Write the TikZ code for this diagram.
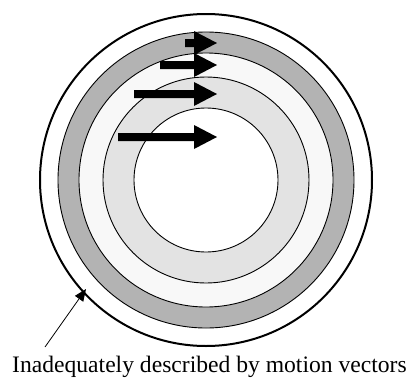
\documentclass[tikz,border=0pt]{standalone}
\usepackage{fontspec}
\setmainfont{Liberation Serif}
\usetikzlibrary{arrows.meta}
\definecolor{ringdark}{HTML}{B3B3B3}
\definecolor{ringpale}{HTML}{F8F8F8}
\definecolor{ringlight}{HTML}{E3E3E3}
\begin{document}
\begin{tikzpicture}[x=1bp,y=-1bp,
  ring/.style={draw=black,line width=0.9bp},
  bigarrow/.style={fill=black,draw=none}]
\useasboundingbox (0,0) rectangle (412,379);
\coordinate (c) at (206,180);
% rings
\draw[line width=2bp,fill=white] (c) circle[radius=166];
\draw[ring,fill=ringdark] (c) circle[radius=148];
\draw[ring,fill=ringpale] (c) circle[radius=127];
\draw[ring,fill=ringlight] (c) circle[radius=103];
\draw[ring,fill=white] (c) circle[radius=72];
% motion vectors
\foreach \ys/\xs in {43/185, 65/160, 94/134, 137/118}{
  \fill[bigarrow] (\xs,\ys-4) -- (194,\ys-4) -- (194,\ys-12) -- (217,\ys)
     -- (194,\ys+12) -- (194,\ys+4) -- (\xs,\ys+4) -- cycle;
}
% label and pointer
\node[anchor=base west,inner sep=0,font=\fontsize{23.6bp}{28bp}\selectfont] (lbl) at (12,372)
  {Inadequately described by motion vectors};
\coordinate (tail) at (45,347);
\coordinate (tip) at (86,289);
\draw[line width=0.8bp,-{Triangle[length=12bp,width=10bp]}] (tail) -- (tip);
\end{tikzpicture}
\end{document}
